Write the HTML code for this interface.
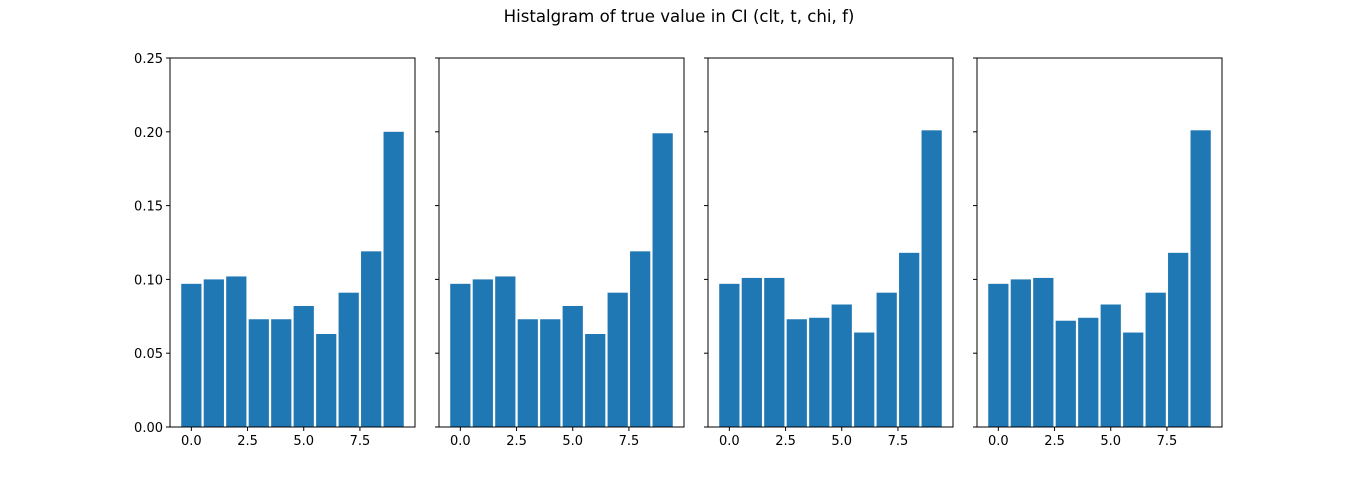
<!DOCTYPE html>
<html><head><meta charset="utf-8"><style>body{margin:0;background:#fff}svg{display:block;font-family:"DejaVu Sans","Liberation Sans",sans-serif}</style></head>
<body>
<svg id="chart" width="1359" height="480">
<text x="679" y="22" text-anchor="middle" font-size="16.6">Histalgram of true value in CI (clt, t, chi, f)</text>
</svg>
<script>
const categories=[0,1,2,3,4,5,6,7,8,9];
const clt=[0.097,0.100,0.102,0.073,0.073,0.082,0.063,0.091,0.119,0.200];
const tdist=[0.097,0.100,0.102,0.073,0.073,0.082,0.063,0.091,0.119,0.199];
const chi=[0.097,0.101,0.101,0.073,0.074,0.083,0.064,0.091,0.118,0.201];
const fdist=[0.097,0.100,0.101,0.072,0.074,0.083,0.064,0.091,0.118,0.201];
const xTicks=[0,2.5,5,7.5];
const yTicks=[0,0.05,0.10,0.15,0.20,0.25];
const series=[clt,tdist,chi,fdist];
(function(){
const NS="http://www.w3.org/2000/svg";
const svg=document.getElementById('chart');
const lefts=[170,439,708,977], W=245, axTop=58, axBot=427;
const xmin=-0.95,xmax=9.95,ymax=0.25;
function mk(t,a){const e=document.createElementNS(NS,t);for(const k in a)e.setAttribute(k,a[k]);svg.appendChild(e);return e;}
series.forEach((vals,p)=>{
  const L=lefts[p];
  const sx=v=>L+(v-xmin)/(xmax-xmin)*W;
  const sy=v=>axBot-v/ymax*(axBot-axTop);
  vals.forEach((v,i)=>{
    const r=mk('rect',{x:sx(categories[i]-0.45),y:sy(v),width:sx(categories[i]+0.45)-sx(categories[i]-0.45),height:axBot-sy(v),fill:'#1f77b4'});
    
    
  });
  const f=mk('rect',{x:L,y:axTop,width:W,height:axBot-axTop,fill:'none',stroke:'#000','stroke-width':1});
  
  
  xTicks.forEach(t=>{
    mk('line',{x1:sx(t),x2:sx(t),y1:axBot,y2:axBot+4,stroke:'#000'});
    const tx=mk('text',{x:sx(t),y:axBot+18,'text-anchor':'middle','font-size':13});
    tx.textContent=t.toFixed(1);
    
    
  });
  yTicks.forEach(t=>{
    mk('line',{x1:L-4,x2:L,y1:sy(t),y2:sy(t),stroke:'#000'});
    if(p===0){
      const tx=mk('text',{x:L-7,y:sy(t)+5,'text-anchor':'end','font-size':13});
      tx.textContent=t.toFixed(2);
      
      
    }
  });
});
})();
</script>
</body></html>
